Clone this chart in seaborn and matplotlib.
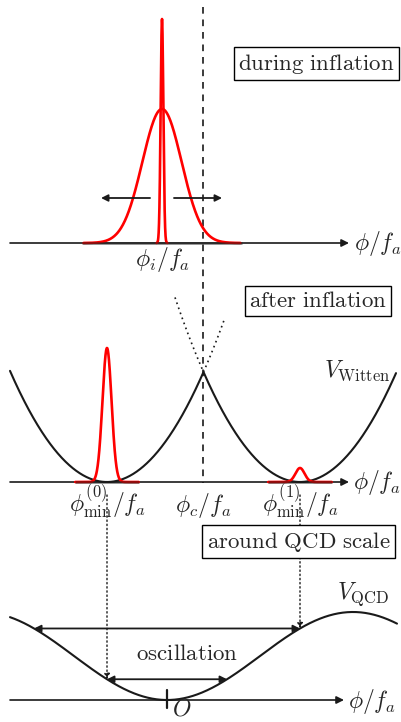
import numpy as np
import pandas as pd
import matplotlib
matplotlib.use("Agg")
import matplotlib.pyplot as plt
import seaborn as sns

# ---------------- data (phi/f_a in units of pi; heights in arbitrary units) ----------------
# panel 1: during inflation
phi_i = 0.57
infl_sigma = [0.203, 0.014]      # broad distribution, initial spike
infl_height = [1.34, 2.24]
# panel 2: after inflation
phi_c = 1.0
phi_min = [0.0, 2.0]
witten_height = 1.10             # V_Witten at the cusp phi_c
after_sigma = [0.047, 0.047]
after_height = [1.34, 0.14]
# panel 3: around QCD scale
phi_O = 0.622
qcd_half_period = 1.927
qcd_height = 0.88

# ---------------- layout helpers (pixel -> data) ----------------
def X(px):
    return (px - 107) / 96.5

def Y(py):
    return (722 - py) / 100.0

B1, B2, B3 = Y(243), Y(482), Y(700)

sns.set_theme(style="white")
plt.rcParams["mathtext.fontset"] = "cm"
plt.rcParams["font.family"] = ["DejaVu Serif"]

fig = plt.figure(figsize=(4.02, 7.22), dpi=100)
ax = fig.add_axes([0, 0, 1, 1])
ax.set_xlim(X(0), X(402))
ax.set_ylim(0, 7.22)
ax.axis("off")

RED = "#ff0000"
FS = 16.5     # roman text
FM = 17       # math labels

def curve(x, y, **kw):
    df = pd.DataFrame({"x": x, "y": y})
    sns.lineplot(data=df, x="x", y="y", ax=ax, sort=False, estimator=None, legend=False, **kw)

def axis_arrow(base, x0=X(10), x1=X(349)):
    ax.annotate("", xy=(x1, base), xytext=(x0, base),
                arrowprops=dict(arrowstyle="-|>", color="k", lw=1.2, mutation_scale=11,
                                shrinkA=0, shrinkB=0), zorder=2)

def arrow(p0, p1, style="-|>", ls="-", lw=1.3, ms=10):
    ax.annotate("", xy=p1, xytext=p0,
                arrowprops=dict(arrowstyle=style, color="k", lw=lw, ls=ls, mutation_scale=ms,
                                shrinkA=0, shrinkB=0), zorder=5)

def boxed(text, cx, cy):
    ax.text(cx, cy, text, ha="center", va="center", fontsize=FS, zorder=6,
            bbox=dict(boxstyle="square,pad=0.18", fc="white", ec="black", lw=1.0))

def base_shade(x0, x1, base):
    # red lying on the black axis looks dark red
    ax.plot([x0, x1], [base, base], color="k", alpha=0.5, lw=2.0, zorder=4,
            solid_capstyle="butt")

# ---------------- panel 1 ----------------
axis_arrow(B1)
for s, h, k in zip(infl_sigma, infl_height, [4.0, 4.0]):
    x = np.linspace(phi_i - k * s, phi_i + k * s, 400)
    curve(x, B1 + h * np.exp(-0.5 * ((x - phi_i) / s) ** 2), color=RED, lw=1.9, zorder=3)
base_shade(X(82), X(242), B1)
arrow((phi_i - 0.124, B1 + 0.45), (phi_i - 0.632, B1 + 0.45))
arrow((phi_i + 0.124, B1 + 0.45), (phi_i + 0.622, B1 + 0.45))
ax.text(phi_i, Y(266), r"$\phi_i/f_a$", ha="center", va="baseline", fontsize=FM)
ax.text(X(354), B1 - 0.07, r"$\phi/f_a$", ha="left", va="baseline", fontsize=FM)
boxed(r"$\mathrm{during\ inflation}$", X(316.5), Y(63.5))

# dashed line at phi_c through panels 1 and 2
ax.plot([phi_c, phi_c], [Y(7), Y(483)], color="k", lw=1.2, ls=(0, (4, 3.5)), zorder=1)

# ---------------- panel 2 ----------------
axis_arrow(B2)
xw = np.linspace(X(10), X(396), 800)
nearest = np.where(xw < phi_c, phi_min[0], phi_min[1])
curve(xw, B2 + witten_height * (xw - nearest) ** 2, color="k", lw=1.5, zorder=3)
# dotted continuations beyond the cusp
xl = np.linspace(phi_c, X(224), 50)
ax.plot(xl, B2 + witten_height * (xl - phi_min[0]) ** 2, color="k", lw=1.2, ls=(0, (1, 2.2)))
xr = np.linspace(X(175), phi_c, 50)
ax.plot(xr, B2 + witten_height * (xr - phi_min[1]) ** 2, color="k", lw=1.2, ls=(0, (1, 2.2)))
for m, s, h in zip(phi_min, after_sigma, after_height):
    x = np.linspace(m - 7 * s, m + 7 * s, 400)
    curve(x, B2 + h * np.exp(-0.5 * ((x - m) / s) ** 2), color=RED, lw=1.9, zorder=3)
    base_shade(m - 7 * s, m + 7 * s, B2)
ax.text(phi_min[0], Y(512), r"$\phi^{(0)}_{\rm min}/f_a$", ha="center", va="baseline", fontsize=FM)
ax.text(phi_c, Y(512), r"$\phi_c/f_a$", ha="center", va="baseline", fontsize=FM)
ax.text(phi_min[1], Y(512), r"$\phi^{(1)}_{\rm min}/f_a$", ha="center", va="baseline", fontsize=FM)
ax.text(X(353), B2 - 0.07, r"$\phi/f_a$", ha="left", va="baseline", fontsize=FM)
ax.text(X(390), Y(377), r"$V_{\rm Witten}$", ha="right", va="baseline", fontsize=FM)
boxed(r"$\mathrm{after\ inflation}$", X(318), Y(301))

# ---------------- panel 3 ----------------
axis_arrow(B3, x1=X(344))
def vqcd(x):
    return 0.5 * qcd_height * (1 - np.cos(np.pi * (np.asarray(x) - phi_O) / qcd_half_period))
xq = np.linspace(X(10), X(397), 600)
curve(xq, B3 + vqcd(xq), color="k", lw=1.5, zorder=3)
ax.plot([phi_O, phi_O], [Y(690), Y(708)], color="k", lw=1.6, zorder=3)
ax.text(phi_O + 0.05, Y(721), r"$O$", ha="left", va="bottom", fontsize=FM)
ax.text(X(348), B3 - 0.08, r"$\phi/f_a$", ha="left", va="baseline", fontsize=FM)
ax.text(X(389), Y(599), r"$V_{\rm QCD}$", ha="right", va="baseline", fontsize=FM)
for m in phi_min:
    lvl = B3 + float(vqcd(m))
    arrow((m, Y(495)), (m, lvl), ls=(0, (1, 2)), lw=1.0, ms=8)
    arrow((2 * phi_O - m, lvl), (m, lvl), style="<|-|>")
ax.text(X(187), Y(660), r"$\mathrm{oscillation}$", ha="center", va="baseline", fontsize=FS)
boxed(r"$\mathrm{around\ QCD\ scale}$", X(298.5), Y(541.5))

fig.savefig("out.png", dpi=100)
